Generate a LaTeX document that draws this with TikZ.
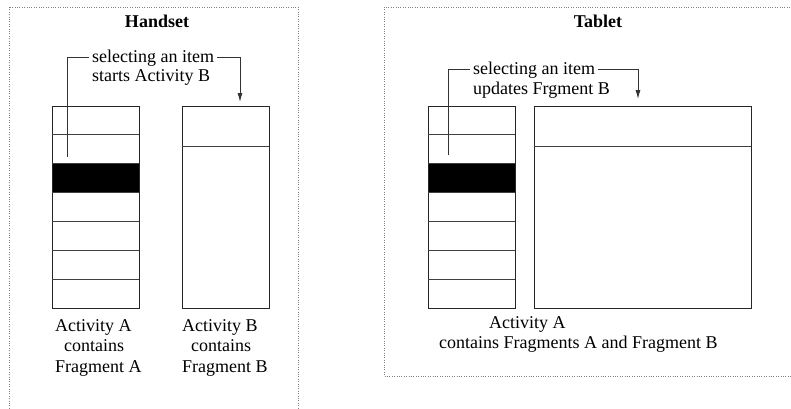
\documentclass[tikz,border=0pt]{standalone}
\usepackage{fontspec}
\setmainfont{Liberation Serif}
\usetikzlibrary{arrows.meta}
\begin{document}
\begin{tikzpicture}[x=1pt,y=-1pt,
  txt/.style={font=\fontsize{18}{20}\selectfont, inner sep=0pt, anchor=base west},
  seltxt/.style={font=\fontsize{18}{20}\selectfont, inner ysep=0pt, inner xsep=3pt, anchor=base west},
  ttl/.style={font=\fontsize{18}{20}\selectfont\bfseries, inner sep=0pt, anchor=base},
  frame/.style={draw=gray, line width=0.8pt, dash pattern=on 0.8pt off 1.6pt},
  col/.style={draw=black!85, line width=0.9pt},
  rowline/.style={draw=black!75, line width=0.9pt},
  conn/.style={draw=black!80, line width=0.9pt},
  arr/.style={conn, -{Latex[length=9pt,width=5pt]}}
]
\clip (0,0) rectangle (791,408);
\fill[white] (0,0) rectangle (791,408);

% ---------- Handset ----------
\draw[frame] (9,7) rectangle (298,440);
\node[ttl] (httl) at (157,27) {Handset};

\fill[black] (52,163.7) rectangle (139,192.6);
\node[col, minimum width=87pt, minimum height=202pt, anchor=north west, inner sep=0pt] (hA) at (52,106) {};
\foreach \yy in {134.9,163.7,192.6,221.4,250.3,279.1}
  \draw[rowline] (52,\yy) -- (139,\yy);

\node[col, minimum width=87pt, minimum height=202pt, anchor=north west, inner sep=0pt] (hB) at (182,106) {};
\draw[rowline] (182,146) -- (269,146);

\node[seltxt] (hsel1) at (89,62) {selecting an item};
\node[seltxt] (hsel2) at (89,81) {starts Activity B};
\coordinate (hstart) at (67,157);
\coordinate (hend) at (240,102);
\draw[conn] (hstart) |- (hsel1.west);
\draw[arr] (hsel1.east) -| (hend);

\node[txt] (hla1) at (55,331) {Activity A};
\node[txt] (hla2) at (64,351) {contains};
\node[txt] (hla3) at (55,372) {Fragment A};
\node[txt] (hlb1) at (182,331) {Activity B};
\node[txt] (hlb2) at (191,351) {contains};
\node[txt] (hlb3) at (182,372) {Fragment B};

% ---------- Tablet ----------
\draw[frame] (384,7) rectangle (830,376);
\node[ttl] (tttl) at (598,27) {Tablet};

\fill[black] (428,163.7) rectangle (515,192.6);
\node[col, minimum width=87pt, minimum height=202pt, anchor=north west, inner sep=0pt] (tA) at (428,106) {};
\foreach \yy in {134.9,163.7,192.6,221.4,250.3,279.1}
  \draw[rowline] (428,\yy) -- (515,\yy);

\node[col, minimum width=217pt, minimum height=202pt, anchor=north west, inner sep=0pt] (tB) at (534,106) {};
\draw[rowline] (534,146) -- (751,146);

\node[seltxt] (tsel1) at (470,74) {selecting an item};
\node[seltxt] (tsel2) at (470,94) {updates Frgment B};
\coordinate (tstart) at (448,155);
\coordinate (tend) at (638,99);
\draw[conn] (tstart) |- (tsel1.west);
\draw[arr] (tsel1.east) -| (tend);

\node[txt] (tla1) at (489,328) {Activity A};
\node[txt] (tla2) at (439,348) {contains Fragments A and Fragment B};
\end{tikzpicture}
\end{document}
